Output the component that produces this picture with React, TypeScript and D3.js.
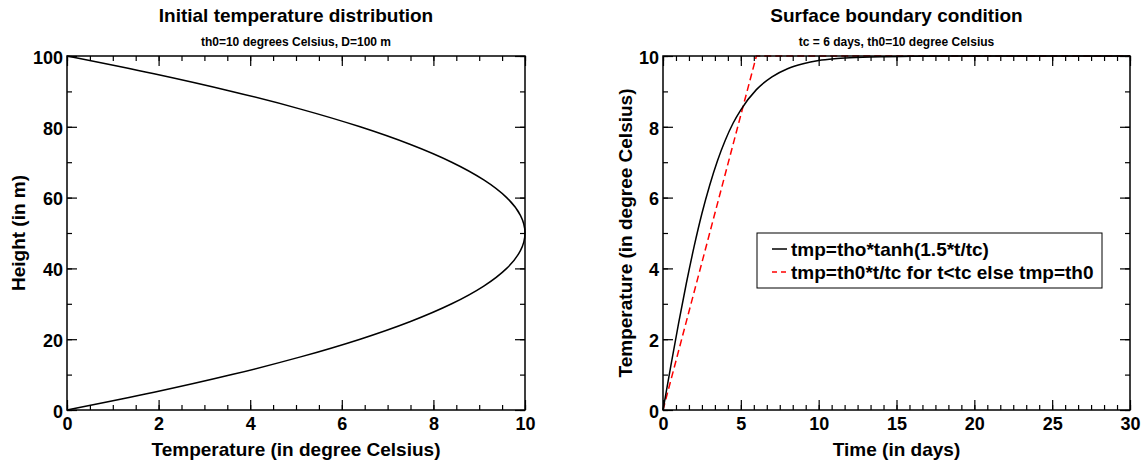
import React, { useEffect, useRef } from 'react';
import * as d3 from 'd3';

// --- data ---
const profileHeights = [0, 5, 10, 15, 20, 25, 30, 35, 40, 45, 50, 55, 60, 65, 70, 75, 80, 85, 90, 95, 100];
const profileTemps = [0, 1.9, 3.6, 5.1, 6.4, 7.5, 8.4, 9.1, 9.6, 9.9, 10, 9.9, 9.6, 9.1, 8.4, 7.5, 6.4, 5.1, 3.6, 1.9, 0];

const tanhDays = [0, 0.5, 1, 1.5, 2, 2.5, 3, 3.5, 4, 4.5, 5, 6, 7, 8, 9, 10, 11, 12, 14, 16, 18, 20, 25, 30];
const tanhTemps = [0, 1.24, 2.45, 3.58, 4.62, 5.55, 6.35, 7.04, 7.62, 8.1, 8.48, 9.05, 9.41, 9.64, 9.78, 9.87, 9.92, 9.95, 9.98, 9.99, 10, 10, 10, 10];

const rampDays = [0, 6, 30];
const rampTemps = [0, 10, 10];

const leftXTicks = [0, 2, 4, 6, 8, 10];
const leftYTicks = [0, 20, 40, 60, 80, 100];
const rightXTicks = [0, 5, 10, 15, 20, 25, 30];
const rightYTicks = [0, 2, 4, 6, 8, 10];

const legendLabels = ['tmp=tho*tanh(1.5*t/tc)', 'tmp=th0*t/tc for t<tc else tmp=th0'];

const FONT = "'Liberation Sans', Arial, Helvetica, sans-serif";

// --- helpers ---
const minorTicks = (domain, step) => d3.range(domain[0], domain[1] + step / 2, step);

const drawFrame = (svg, box, x, y, o) => {
  const { x0, x1, y0, y1 } = box;
  const styleAxis = (g, labels) => {
    g.select('.domain').remove();
    g.selectAll('line').attr('stroke', '#000').attr('stroke-width', 1.2);
    g.attr('font-size', 18).attr('font-family', FONT).attr('font-weight', 'bold');
    if (!labels) g.selectAll('text').remove();
    g.selectAll('text').attr('fill', '#000');
  };

  const bottom = svg.append('g').attr('transform', `translate(0,${y1})`);
  bottom.append('g').call(d3.axisBottom(x).tickValues(o.xMinor).tickSize(-5).tickFormat(() => '')).call(g => styleAxis(g, false));
  bottom.append('g').call(d3.axisBottom(x).tickValues(o.xMajor).tickSize(-10).tickPadding(7).tickFormat(d3.format('d'))).call(g => styleAxis(g, true));

  const top = svg.append('g').attr('transform', `translate(0,${y0})`);
  top.append('g').call(d3.axisTop(x).tickValues(o.xMinor).tickSize(-5)).call(g => styleAxis(g, false));
  top.append('g').call(d3.axisTop(x).tickValues(o.xMajor).tickSize(-10)).call(g => styleAxis(g, false));

  const left = svg.append('g').attr('transform', `translate(${x0},0)`);
  left.append('g').call(d3.axisLeft(y).tickValues(o.yMinor).tickSize(-5).tickFormat(() => '')).call(g => styleAxis(g, false));
  left.append('g').call(d3.axisLeft(y).tickValues(o.yMajor).tickSize(-10).tickPadding(4).tickFormat(d3.format('d')))
    .call(g => styleAxis(g, true))
    .call(g => g.selectAll('text').attr('dy', '0.4em'));

  const right = svg.append('g').attr('transform', `translate(${x1},0)`);
  right.append('g').call(d3.axisRight(y).tickValues(o.yMinor).tickSize(-5)).call(g => styleAxis(g, false));
  right.append('g').call(d3.axisRight(y).tickValues(o.yMajor).tickSize(-10)).call(g => styleAxis(g, false));

  svg.append('rect').attr('x', x0).attr('y', y0).attr('width', x1 - x0).attr('height', y1 - y0)
    .attr('fill', 'none').attr('stroke', '#000').attr('stroke-width', 1.5);

  const cx = (x0 + x1) / 2;
  svg.append('text').attr('x', cx).attr('y', 22).attr('text-anchor', 'middle')
    .attr('font-family', FONT).attr('font-weight', 'bold').attr('font-size', 19).text(o.title);
  svg.append('text').attr('x', cx).attr('y', 46).attr('text-anchor', 'middle')
    .attr('font-family', FONT).attr('font-weight', 'bold').attr('font-size', 12).text(o.subtitle);
  svg.append('text').attr('x', cx).attr('y', 456).attr('text-anchor', 'middle')
    .attr('font-family', FONT).attr('font-weight', 'bold').attr('font-size', 19).text(o.xLabel);
  svg.append('text').attr('transform', `translate(${o.yLabelX},${(y0 + y1) / 2}) rotate(-90)`)
    .attr('text-anchor', 'middle').attr('dy', '0.35em')
    .attr('font-family', FONT).attr('font-weight', 'bold').attr('font-size', 19).text(o.yLabel);
};

const Charts = () => {
  const ref = useRef(null);

  useEffect(() => {
    const svg = d3.select(ref.current);
    svg.selectAll('*').remove();

    // --- left panel: initial temperature profile ---
    const lbox = { x0: 67, x1: 525, y0: 56, y1: 410 };
    const lx = d3.scaleLinear().domain([0, 10]).range([lbox.x0, lbox.x1]);
    const ly = d3.scaleLinear().domain([0, 100]).range([lbox.y1, lbox.y0]);

    const profile = profileHeights.map((h, i) => [profileTemps[i], h]);
    svg.append('path').datum(profile)
      .attr('d', d3.line().x(d => lx(d[0])).y(d => ly(d[1])).curve(d3.curveMonotoneY))
      .attr('fill', 'none').attr('stroke', '#000').attr('stroke-width', 1.5);

    drawFrame(svg, lbox, lx, ly, {
      xMajor: leftXTicks, xMinor: minorTicks([0, 10], 0.5),
      yMajor: leftYTicks, yMinor: minorTicks([0, 100], 10),
      title: 'Initial temperature distribution',
      subtitle: 'th0=10 degrees Celsius, D=100 m',
      xLabel: 'Temperature (in degree Celsius)',
      yLabel: 'Height (in m)', yLabelX: 18,
    });

    // --- right panel: surface boundary condition ---
    const rbox = { x0: 663, x1: 1130, y0: 56, y1: 410 };
    const rx = d3.scaleLinear().domain([0, 30]).range([rbox.x0, rbox.x1]);
    const ry = d3.scaleLinear().domain([0, 10]).range([rbox.y1, rbox.y0]);
    const line = d3.line().x(d => rx(d[0])).y(d => ry(d[1]));

    svg.append('path').datum(rampDays.map((t, i) => [t, rampTemps[i]]))
      .attr('d', line).attr('fill', 'none').attr('stroke', '#ff0000')
      .attr('stroke-width', 1.5).attr('stroke-dasharray', '7,4');
    svg.append('path').datum(tanhDays.map((t, i) => [t, tanhTemps[i]]))
      .attr('d', line.curve(d3.curveMonotoneX)).attr('fill', 'none').attr('stroke', '#000').attr('stroke-width', 1.5);

    drawFrame(svg, rbox, rx, ry, {
      xMajor: rightXTicks, xMinor: minorTicks([0, 30], 5 / 6),
      yMajor: rightYTicks, yMinor: minorTicks([0, 10], 1),
      title: 'Surface boundary condition',
      subtitle: 'tc = 6 days, th0=10 degree Celsius',
      xLabel: 'Time (in days)',
      yLabel: 'Temperature (in degree Celsius)', yLabelX: 625,
    });

    // legend
    const lg = svg.append('g');
    lg.append('rect').attr('x', 757).attr('y', 233).attr('width', 345).attr('height', 55)
      .attr('fill', '#fff').attr('stroke', '#000').attr('stroke-width', 1);
    const rows = [
      { label: legendLabels[0], color: '#000', dash: null, y: 249 },
      { label: legendLabels[1], color: '#ff0000', dash: '5,4', y: 272 },
    ];
    rows.forEach(r => {
      lg.append('line').attr('x1', 772).attr('x2', 787).attr('y1', r.y).attr('y2', r.y)
        .attr('stroke', r.color).attr('stroke-width', 1.5).attr('stroke-dasharray', r.dash);
      lg.append('text').attr('x', 791).attr('y', r.y).attr('dy', '0.35em')
        .attr('font-family', FONT).attr('font-weight', 'bold').attr('font-size', 19).text(r.label);
    });
  }, []);

  return <svg ref={ref} width={1145} height={462} style={{ position: 'absolute', left: 0, top: 0, background: '#fff' }} />;
};

export default function App() {
  return <Charts />;
}
